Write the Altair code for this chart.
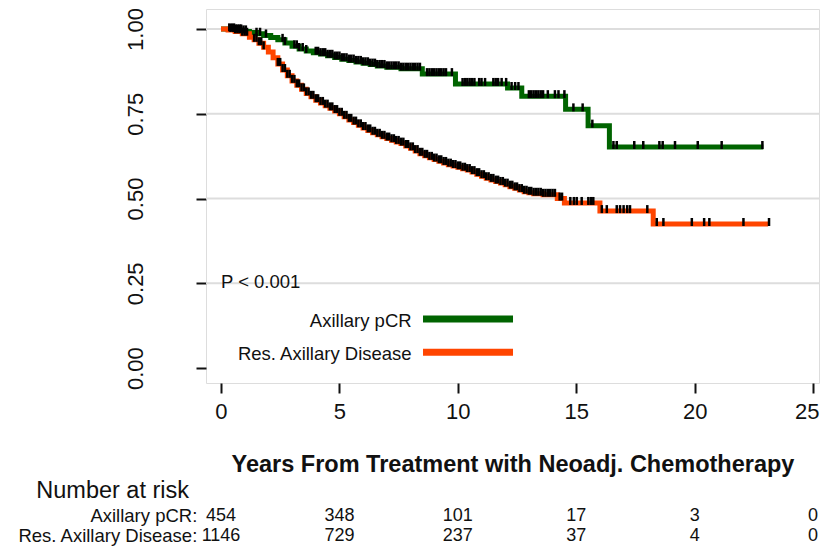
import altair as alt
import pandas as pd
from bisect import bisect_right

FONT = "Liberation Sans"
TXT = "#111111"

groups = ["Axillary pCR", "Res. Axillary Disease"]
colors = ["#006400", "#FF4500"]

x_ticks = [0, 5, 10, 15, 20, 25]
y_ticks = [0.0, 0.25, 0.5, 0.75, 1.0]
grid_vals = [0.25, 0.5, 0.75, 1.0]

# Kaplan-Meier step knots (time in years, survival)
pcr_time = [0, 0.3, 0.6, 0.9, 1.2, 1.5, 1.8, 2.1, 2.4, 2.7, 3.0, 3.3, 3.6, 3.9, 4.2, 4.5,
            4.8, 5.1, 5.4, 5.7, 6.0, 6.3, 6.6, 7.0, 7.6, 8.5, 9.9, 12.1, 12.7, 14.55,
            15.5, 16.4, 22.9]
pcr_surv = [1.0, 0.999, 0.996, 0.993, 0.99, 0.986, 0.981, 0.975, 0.968, 0.959, 0.949,
            0.941, 0.935, 0.93, 0.926, 0.921, 0.916, 0.911, 0.907, 0.903, 0.899, 0.895,
            0.891, 0.887, 0.883, 0.867, 0.838, 0.826, 0.802, 0.763, 0.715, 0.652, 0.652]

res_time = [0, 0.3, 0.6, 0.9, 1.2, 1.4, 1.6, 1.8, 2.0, 2.2, 2.4, 2.6, 2.8, 3.0, 3.2, 3.4,
            3.6, 3.8, 4.0, 4.2, 4.4, 4.6, 4.8, 5.0, 5.2, 5.4, 5.6, 5.8, 6.0, 6.2, 6.4,
            6.6, 6.8, 7.0, 7.2, 7.4, 7.6, 7.8, 8.0, 8.2, 8.4, 8.6, 8.8, 9.0, 9.2, 9.4,
            9.6, 9.8, 10.0, 10.2, 10.4, 10.6, 10.8, 11.0, 11.2, 11.4, 11.6, 11.8, 12.0,
            12.2, 12.4, 12.6, 12.8, 13.0, 13.2, 13.6, 14.2, 14.5, 16.0, 18.25, 23.1]
res_surv = [1.0, 0.997, 0.993, 0.986, 0.976, 0.968, 0.958, 0.946, 0.932, 0.915, 0.897,
            0.879, 0.862, 0.847, 0.834, 0.822, 0.81, 0.8, 0.79, 0.782, 0.774, 0.766,
            0.758, 0.75, 0.741, 0.732, 0.724, 0.716, 0.708, 0.701, 0.694, 0.688, 0.682,
            0.677, 0.672, 0.667, 0.662, 0.655, 0.648, 0.64, 0.632, 0.626, 0.62, 0.615,
            0.61, 0.605, 0.6, 0.596, 0.592, 0.588, 0.584, 0.578, 0.572, 0.566, 0.56,
            0.555, 0.55, 0.546, 0.541, 0.535, 0.53, 0.525, 0.52, 0.517, 0.514, 0.511,
            0.5, 0.487, 0.463, 0.425, 0.425]

# censoring times
pcr_cens = [0.35, 0.45, 0.55, 0.62, 0.7, 0.78, 0.85, 0.95, 1.05, 1.5, 1.65, 1.9, 2.6, 2.7,
            3.1, 3.2, 3.3, 3.45, 3.6, 4.0, 4.1, 4.2, 4.3, 4.4, 4.5, 4.6, 4.7, 4.8, 4.9,
            5.0, 5.1, 5.2, 5.3, 5.4, 5.5, 5.6, 5.7, 5.8, 5.9, 6.0, 6.1, 6.2, 6.3, 6.4,
            6.5, 6.6, 6.7, 6.8, 6.9, 7.0, 7.1, 7.2, 7.3, 7.4, 7.5, 7.6, 7.7, 7.8, 7.9,
            8.0, 8.1, 8.2, 8.3, 8.4, 8.7, 8.8, 8.9, 9.0, 9.1, 9.2, 9.3, 9.4, 9.5, 9.75,
            10.2, 10.3, 10.4, 10.5, 10.6, 10.7, 10.9, 11.0, 11.15, 11.5, 11.6, 11.7,
            11.85, 12.04, 12.27, 12.42, 12.56, 13.0, 13.1, 13.2, 13.3, 13.4, 13.5, 13.6,
            13.8, 14.1, 14.25, 14.5, 14.88, 15.27, 15.68, 16.57, 16.71, 17.45, 17.83,
            18.51, 18.65, 19.17, 20.13, 21.14, 22.86]
res_cens = [0.4, 0.5, 0.6, 0.7, 0.8, 0.9, 1.0, 1.1, 1.4, 1.5, 1.6, 1.7, 1.8, 2.4, 2.5,
            2.6, 2.7, 2.8, 2.9, 3.0, 3.1, 3.2, 3.3, 3.4, 3.5, 3.6, 3.7, 3.8, 3.9, 4.0,
            4.1, 4.2, 4.3, 4.4, 4.5, 4.6, 4.7, 4.8, 4.9, 5.0, 5.1, 5.2, 5.3, 5.4, 5.5,
            5.6, 5.7, 5.8, 5.9, 6.0, 6.1, 6.2, 6.3, 6.4, 6.5, 6.6, 6.7, 6.8, 6.9, 7.0,
            7.1, 7.2, 7.3, 7.4, 7.5, 7.6, 7.7, 7.8, 7.9, 8.0, 8.1, 8.2, 8.3, 8.4, 8.5,
            8.6, 8.7, 8.8, 8.9, 9.0, 9.1, 9.2, 9.3, 9.4, 9.5, 9.6, 9.7, 9.8, 9.9, 10.0,
            10.1, 10.2, 10.3, 10.4, 10.5, 10.6, 10.7, 10.8, 10.9, 11.0, 11.1, 11.2, 11.3,
            11.4, 11.5, 11.6, 11.7, 11.8, 11.9, 12.0, 12.1, 12.2, 12.3, 12.4, 12.5, 12.6,
            12.7, 12.8, 12.9, 13.0, 13.1, 13.2, 13.3, 13.4, 13.5, 13.6, 13.7, 13.8, 13.9,
            14.0, 14.1, 14.3, 14.4, 14.75, 14.9, 15.02, 15.23, 15.51, 15.62, 15.72,
            16.08, 16.29, 16.71, 16.85, 17.0, 17.15, 17.27, 18.0, 18.4, 18.68, 19.88,
            20.4, 20.62, 22.06, 23.14]

risk_pcr = [454, 348, 101, 17, 3, 0]
risk_res = [1146, 729, 237, 37, 4, 0]
risk_title = "Number at risk"
p_text = "P < 0.001"
x_title = "Years From Treatment with Neoadj. Chemotherapy"


def surv_at(times, survs, t):
    i = bisect_right(times, t) - 1
    return survs[max(i, 0)]


curves = pd.DataFrame(
    [{"g": groups[0], "t": t, "s": s} for t, s in zip(pcr_time, pcr_surv)]
    + [{"g": groups[1], "t": t, "s": s} for t, s in zip(res_time, res_surv)]
)
cens = pd.DataFrame(
    [{"g": groups[0], "t": t, "s": surv_at(pcr_time, pcr_surv, t)} for t in pcr_cens]
    + [{"g": groups[1], "t": t, "s": surv_at(res_time, res_surv, t)} for t in res_cens]
)

xs = alt.Scale(domain=[-0.633, 25.25], nice=False, zero=False)
ys = alt.Scale(domain=[-0.044, 1.059], nice=False, zero=False)

last_tick = "datum.value == %d" % x_ticks[-1]
x_axis = alt.Axis(values=x_ticks, format="d", labelFontSize=22, labelFont=FONT,
                  labelColor=TXT, tickSize=10, tickWidth=2, tickColor="#111",
                  domain=False, grid=False, labelPadding=8, title=x_title,
                  titleFont=FONT, titleFontSize=23.5, titleFontWeight="bold",
                  titleColor=TXT, titlePadding=30, labelOverlap=False,
                  labelFlush=False,
                  labelAlign=alt.condition(last_tick, alt.value("right"), alt.value("center")),
                  labelOffset=alt.condition(last_tick, alt.value(6), alt.value(0)))
y_axis = alt.Axis(values=y_ticks, format=".2f", labelFontSize=22, labelFont=FONT,
                  labelColor=TXT, labelAngle=-90, tickSize=10, tickWidth=2,
                  tickColor="#111", domain=False, grid=False, labelPadding=49,
                  title=None, labelOverlap=False, labelFlush=False)

X = alt.X("t:Q", scale=xs, axis=x_axis)
Y = alt.Y("s:Q", scale=ys, axis=y_axis)
col = alt.Color("g:N", scale=alt.Scale(domain=groups, range=colors), legend=None)

grid = alt.Chart(pd.DataFrame({"s": grid_vals})).mark_rule(
    color="#dddddd", strokeWidth=2).encode(y=Y)

lines = alt.Chart(curves).mark_line(interpolate="step-after", strokeWidth=5).encode(
    x=X, y=Y, color=col, detail="g:N")

ticks = alt.Chart(cens).mark_tick(orient="vertical", color="black", size=8,
                                  thickness=2.5, yOffset=-2, opacity=1).encode(x=X, y=Y)

ptxt = alt.Chart(pd.DataFrame({"t": [0.0], "s": [0.254], "txt": [p_text]})).mark_text(
    align="left", baseline="middle", font=FONT, fontSize=18.5, color=TXT).encode(
    x=X, y=Y, text="txt:N")

leg_df = pd.DataFrame({"g": groups, "t": [8.53, 8.53], "t2": [12.33, 12.33],
                       "s": [0.1445, 0.047], "tl": [8.05, 8.05]})
leg_lines = alt.Chart(leg_df).mark_rule(strokeWidth=7).encode(
    x=X, x2="t2:Q", y=Y, color=col)
leg_text = alt.Chart(leg_df).mark_text(
    align="right", baseline="middle", font=FONT, fontSize=18.5, color=TXT, dy=2).encode(
    x=alt.X("tl:Q", scale=xs, axis=x_axis), y=Y, text="g:N")

row1_y, row2_y, head_y = -0.4366, -0.4956, -0.363
risk_rows = pd.DataFrame(
    [{"t": xt, "s": row1_y, "txt": str(v)} for xt, v in zip(x_ticks, risk_pcr)]
    + [{"t": xt, "s": row2_y, "txt": str(v)} for xt, v in zip(x_ticks, risk_res)]
)
risk_nums = alt.Chart(risk_rows).mark_text(
    align="center", baseline="middle", font=FONT, fontSize=18, color=TXT).encode(
    x=X, y=Y, text="txt:N")

risk_lab_df = pd.DataFrame({"t": [-1.0, -1.0], "s": [row1_y, row2_y],
                            "txt": [groups[0] + ":", groups[1] + ":"]})
risk_labs = alt.Chart(risk_lab_df).mark_text(
    align="right", baseline="middle", font=FONT, fontSize=18.5, color=TXT).encode(
    x=X, y=Y, text="txt:N")

risk_head = alt.Chart(pd.DataFrame({"t": [-7.8], "s": [head_y], "txt": [risk_title]})).mark_text(
    align="left", baseline="middle", font=FONT, fontSize=23.5, color=TXT).encode(
    x=X, y=Y, text="txt:N")

chart = alt.layer(grid, lines, ticks, ptxt, leg_lines, leg_text, risk_nums, risk_labs,
                  risk_head).properties(
    width=613, height=374,
    padding={"left": 198, "top": 1, "right": 1, "bottom": 163},
    autosize=alt.AutoSizeParams(type="none"),
).configure_view(stroke="#111", strokeWidth=2).configure(background="white")

chart.save("out.html", embed_options={"renderer": "svg", "actions": False})
